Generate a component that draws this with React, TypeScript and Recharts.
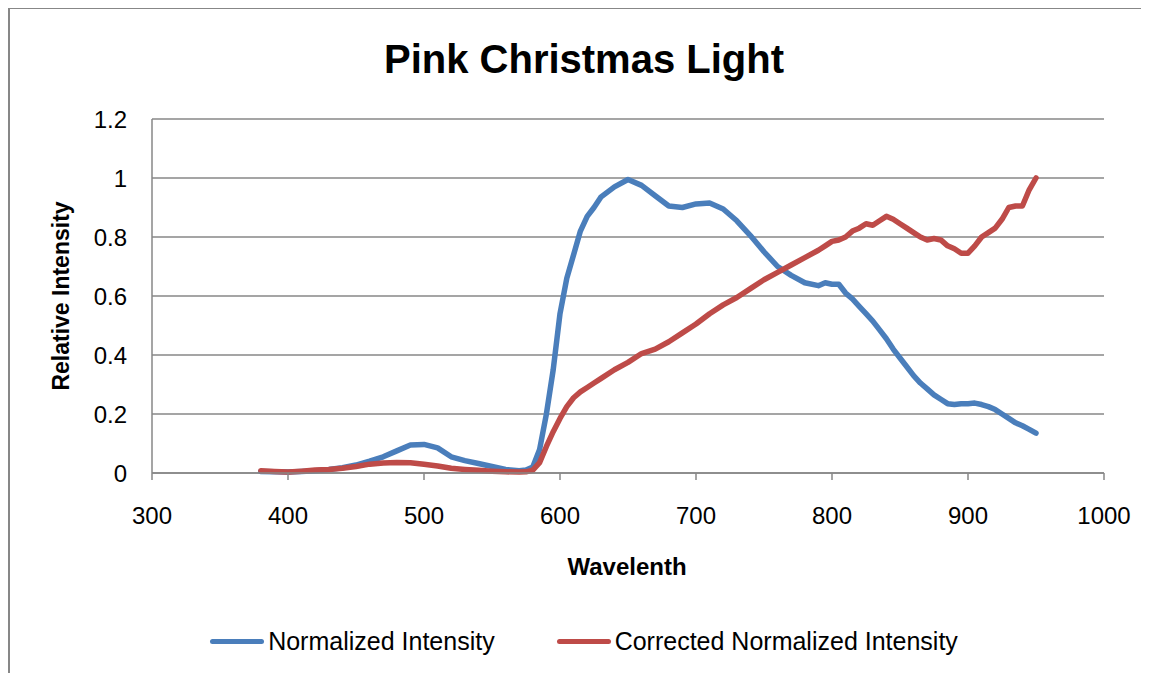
import { LineChart, Line, XAxis, YAxis, CartesianGrid, Legend } from 'recharts';

const wavelengths = [
  380, 390, 400, 410, 420, 430, 440, 450, 460, 470, 480, 490, 500, 510, 520, 530, 540, 550, 560, 570,
  575, 580, 585, 590, 595, 600, 605, 610, 615, 620, 625,
  630, 640, 650, 660, 670, 680, 690, 700, 710, 720, 730, 740, 750, 760, 770, 780, 790,
  795, 800, 805, 810, 815, 820, 825, 830, 835, 840, 845, 850, 855, 860, 865, 870, 875, 880,
  885, 890, 895, 900, 905, 910, 915, 920, 925, 930, 935, 940, 945, 950,
];

const normalized = [
  0.005, 0.004, 0.003, 0.005, 0.008, 0.012, 0.018, 0.027, 0.04, 0.055, 0.075, 0.095, 0.097, 0.085, 0.055, 0.042, 0.032, 0.022, 0.012, 0.008,
  0.01, 0.02, 0.08, 0.2, 0.35, 0.54, 0.66, 0.74, 0.82, 0.87, 0.9,
  0.935, 0.97, 0.995, 0.975, 0.94, 0.905, 0.9, 0.912, 0.915, 0.895, 0.855, 0.805, 0.75, 0.7, 0.67, 0.645, 0.635,
  0.645, 0.64, 0.64, 0.61, 0.59, 0.565, 0.54, 0.515, 0.485, 0.455, 0.42, 0.39, 0.36, 0.33, 0.305, 0.285, 0.265, 0.25,
  0.235, 0.232, 0.235, 0.235, 0.237, 0.232, 0.225, 0.215, 0.2, 0.185, 0.17, 0.16, 0.148, 0.135,
];

const corrected = [
  0.008, 0.005, 0.003, 0.006, 0.01, 0.012, 0.016, 0.022, 0.03, 0.034, 0.036, 0.035, 0.03, 0.024, 0.016, 0.012, 0.009, 0.006, 0.004, 0.003,
  0.004, 0.01, 0.035, 0.09, 0.14, 0.185, 0.225, 0.255, 0.275, 0.29, 0.305,
  0.32, 0.35, 0.375, 0.405, 0.42, 0.445, 0.475, 0.505, 0.54, 0.57, 0.595, 0.625, 0.655, 0.68, 0.705, 0.73, 0.755,
  0.77, 0.785, 0.79, 0.8, 0.82, 0.83, 0.845, 0.84, 0.855, 0.87, 0.86, 0.845, 0.83, 0.815, 0.8, 0.79, 0.795, 0.79,
  0.77, 0.76, 0.745, 0.745, 0.77, 0.8, 0.815, 0.83, 0.86, 0.9, 0.905, 0.905, 0.96, 1.0,
];

const xTicks = [300, 400, 500, 600, 700, 800, 900, 1000];
const yTicks = [0, 0.2, 0.4, 0.6, 0.8, 1, 1.2];

const rows = wavelengths.map((w, i) => ({ w, normalized: normalized[i], corrected: corrected[i] }));

const FONT = '"Liberation Sans", Arial, sans-serif';
const GRAY = '#878787';
const BLUE = '#4A7EBB';
const RED = '#BE4B48';

const legendItems = [
  { name: 'Normalized Intensity', color: BLUE },
  { name: 'Corrected Normalized Intensity', color: RED },
];

function LegendBox() {
  return (
    <div style={{ display: 'flex', justifyContent: 'center', alignItems: 'center', gap: 62, fontFamily: FONT, fontSize: 25 }}>
      {legendItems.map(it => (
        <div key={it.name} style={{ display: 'flex', alignItems: 'center' }}>
          <div style={{ width: 54, height: 5, borderRadius: 3, background: it.color, marginRight: 4 }} />
          <span style={{ color: '#000' }}>{it.name}</span>
        </div>
      ))}
    </div>
  );
}

export default function App() {
  const centered = (cx: number, cy: number) => ({
    position: 'absolute' as const,
    left: cx,
    top: cy,
    transform: 'translate(-50%, -50%)',
    lineHeight: 1,
    whiteSpace: 'nowrap' as const,
    fontFamily: FONT,
    fontWeight: 700,
    color: '#000',
  });

  return (
    <div style={{ position: 'relative', width: 1141, height: 666, overflow: 'hidden', marginTop: -1 }}>
      <div style={{ position: 'absolute', left: 0, top: 0, width: 1152, height: 700, border: `2px solid ${GRAY}`, boxSizing: 'border-box' }} />
      <div style={{ ...centered(576, 52), fontSize: 40 }}>Pink Christmas Light</div>
      <div style={{ ...centered(53, 289), fontSize: 23, transform: 'translate(-50%, -50%) rotate(-90deg)' }}>Relative Intensity</div>
      <div style={{ ...centered(619, 560), fontSize: 24 }}>Wavelenth</div>
      <LineChart width={1141} height={666} data={rows} margin={{ top: 112, right: 45, left: 0, bottom: 90 }}>
        <CartesianGrid vertical={false} stroke={GRAY} strokeWidth={1.5} />
        <XAxis
          dataKey="w"
          type="number"
          domain={[300, 1000]}
          ticks={xTicks}
          height={80}
          tickSize={7}
          tickMargin={27}
          stroke={GRAY}
          strokeWidth={1.5}
          tick={{ fill: '#000', fontSize: 24, fontFamily: FONT }}
        />
        <YAxis
          type="number"
          domain={[0, 1.2]}
          ticks={yTicks}
          width={144}
          tickLine={false}
          tickSize={0}
          tickMargin={25}
          stroke={GRAY}
          strokeWidth={1.5}
          tick={{ fill: '#000', fontSize: 24, fontFamily: FONT }}
        />
        <Legend content={() => <LegendBox />} wrapperStyle={{ position: 'absolute', left: 0, top: 620, width: 1152, height: 30 }} />
        <Line dataKey="normalized" name="Normalized Intensity" stroke={BLUE} strokeWidth={5.5} strokeLinecap="round" strokeLinejoin="round" dot={false} isAnimationActive={false} />
        <Line dataKey="corrected" name="Corrected Normalized Intensity" stroke={RED} strokeWidth={5.5} strokeLinecap="round" strokeLinejoin="round" dot={false} isAnimationActive={false} />
      </LineChart>
    </div>
  );
}
